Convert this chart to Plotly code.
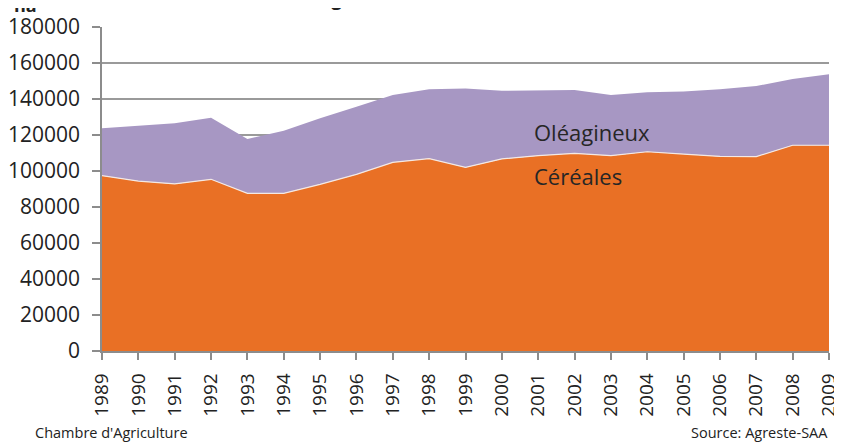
import plotly.graph_objects as go

annees = list(range(1989, 2010))
cereales = [97400, 94400, 92800, 95400, 87600, 87600, 92600, 98100, 104800, 106900,
            102000, 106700, 108500, 109800, 108500, 110700, 109400, 108100, 108000, 114300, 114300]
oleagineux = [26300, 30800, 33700, 34200, 30200, 34800, 36700, 37600, 37400, 38500,
              43900, 37900, 36300, 35200, 33700, 33000, 34700, 37300, 39200, 36800, 39400]
y_ticks = list(range(0, 180001, 20000))

ORANGE = "#E97025"
VIOLET = "#A797C3"
FONT = "Open Sans"
TXT = "#222222"

fig = go.Figure()
fig.add_trace(go.Scatter(x=annees, y=cereales, stackgroup="s", mode="lines",
                         line=dict(color="#F4E9E4", width=1.2), fillcolor=ORANGE,
                         name="Céréales", hoverinfo="x+y"))
fig.add_trace(go.Scatter(x=annees, y=oleagineux, stackgroup="s", mode="lines",
                         line=dict(color=VIOLET, width=0), fillcolor=VIOLET,
                         name="Oléagineux", hoverinfo="x+y"))

fig.update_layout(
    width=834, height=438,
    margin=dict(l=94, r=13, t=19, b=95, autoexpand=False),
    paper_bgcolor="white", plot_bgcolor="white",
    showlegend=False,
    font=dict(family=FONT, color=TXT),
    xaxis=dict(range=[1989, 2009], tickmode="array", tickvals=annees,
               ticktext=[str(a) for a in annees], tickangle=-90,
               ticks="outside", ticklen=7, tickcolor="#8C8C8C", tickwidth=1.5,
               showline=True, linecolor="#8C8C8C", linewidth=1.5,
               showgrid=False, zeroline=False, automargin=False,
               ticklabelstandoff=6, ticklabeloverflow="allow",
               tickfont=dict(size=19, color=TXT)),
    yaxis=dict(range=[0, 180000], tickmode="array", tickvals=y_ticks,
               ticktext=[str(v) for v in y_ticks],
               ticks="outside", ticklen=8, tickcolor="#8C8C8C", tickwidth=1.5,
               showline=True, linecolor="#8C8C8C", linewidth=1.5,
               showgrid=True, gridcolor="#9A9A9A", gridwidth=1.5,
               zeroline=False, layer="below traces", automargin=False,
               ticklabelstandoff=8, ticklabeloverflow="allow",
               tickfont=dict(size=21, color=TXT)),
)

fig.add_annotation(x=2000.83, y=121700, text="Oléagineux",
                   showarrow=False, font=dict(size=22, color="#262626"), xanchor="left")
fig.add_annotation(x=2000.83, y=97200, text="Céréales",
                   showarrow=False, font=dict(size=22, color="#262626"), xanchor="left")

fig.add_annotation(xref="paper", yref="paper", x=0.2077, y=1.043, yanchor="bottom", xanchor="left",
                   text="<b>Surface grandes cultures en Meurthe-et-Moselle</b>",
                   showarrow=False, font=dict(size=19, color=TXT))
fig.add_annotation(xref="paper", yref="paper", x=-0.124, y=1.026, yanchor="bottom", xanchor="left",
                   text="<b>ha</b>", showarrow=False, font=dict(size=18, color=TXT))
fig.add_annotation(xref="paper", yref="paper", x=-0.095, y=-0.217, yanchor="top", xanchor="left",
                   text="Chambre d'Agriculture", showarrow=False,
                   font=dict(size=14.5, color=TXT))
fig.add_annotation(xref="paper", yref="paper", x=1.001, y=-0.217, yanchor="top", xanchor="right",
                   text="Source: Agreste-SAA", showarrow=False,
                   font=dict(size=14.5, color=TXT))

fig.write_html("out.html")
